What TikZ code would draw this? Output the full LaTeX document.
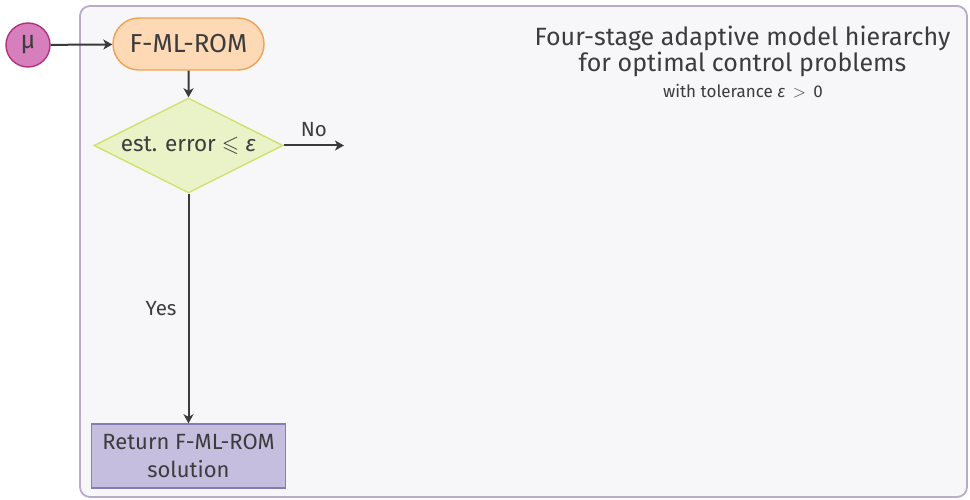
\documentclass[tikz,border=0pt]{standalone}
\usepackage{amssymb}
\usepackage{fontspec}
\setmainfont{Fira Sans}
\usetikzlibrary{shapes.geometric,shapes.misc,arrows.meta}
\definecolor{txt}{HTML}{3C3C3C}
\definecolor{framefill}{HTML}{F7F7FA}
\definecolor{framedraw}{HTML}{B9ABCB}
\definecolor{mufill}{HTML}{D67FBC}
\definecolor{mudraw}{HTML}{B3307F}
\definecolor{romfill}{HTML}{FDD9B6}
\definecolor{romdraw}{HTML}{F2A24E}
\definecolor{decfill}{HTML}{EAF2C8}
\definecolor{decdraw}{HTML}{D0E26E}
\definecolor{retfill}{HTML}{C6BEDF}
\definecolor{retdraw}{HTML}{8A7BB3}
\definecolor{arr}{HTML}{3A3A3A}
\tikzset{
  base/.style={text=txt, line width=1.4pt, inner sep=0pt},
  circ/.style={base, circle, fill=mufill, draw=mudraw, minimum size=44pt, font=\fontsize{25}{28}\selectfont},
  pill/.style={base, rounded rectangle, fill=romfill, draw=romdraw, minimum width=151pt, minimum height=52pt, font=\fontsize{26}{30}\selectfont},
  dec/.style={base, diamond, aspect=2, fill=decfill, draw=decdraw, minimum width=189pt, minimum height=95pt, font=\fontsize{22.5}{26}\selectfont},
  retbox/.style={base, rectangle, fill=retfill, draw=retdraw, minimum width=194pt, minimum height=64pt, align=center, font=\fontsize{22}{28}\selectfont},
  conn/.style={draw=arr, line width=2pt, -{Stealth[length=9pt,width=10pt,inset=2.5pt]}},
  lbl/.style={text=txt, font=\fontsize{20.5}{24}\selectfont, inner sep=0pt}
}
\begin{document}
\begin{tikzpicture}[x=1pt,y=-1pt]
\useasboundingbox (0,0) rectangle (970,500);
\draw[fill=framefill, draw=framedraw, line width=1.8pt, rounded corners=10pt] (80,6) rectangle (967,497);
\node[circ] (mu) at (28,45) {μ};
\node[pill] (rom) at (188.5,44) {F-ML-ROM};
\node[dec] (dec) at (188.5,145.5) {est. error $\leqslant$ {\itshape ε}};
\node[retbox] (ret) at (188.5,456) {Return F-ML-ROM\\solution};
\coordinate (noend) at (344,145.5);
\draw[conn] (mu) -- (rom);
\draw[conn] (rom) -- (dec);
\draw[conn] (dec.east) -- node[lbl, above=8pt] {No} (noend);
\draw[conn] (dec.south) -- node[lbl, left=11pt, pos=0.5] {Yes} (ret.north);
\node[text=txt, font=\fontsize{25}{26}\selectfont, align=center, inner sep=0pt] (title) at (742.5,51) {Four-stage adaptive model hierarchy\\for optimal control problems};
\node[text=txt, font=\fontsize{17}{20}\selectfont, inner sep=0pt] (sub) at (743,91) {with tolerance {\itshape ε} \,$>$\, 0};
\end{tikzpicture}
\end{document}
